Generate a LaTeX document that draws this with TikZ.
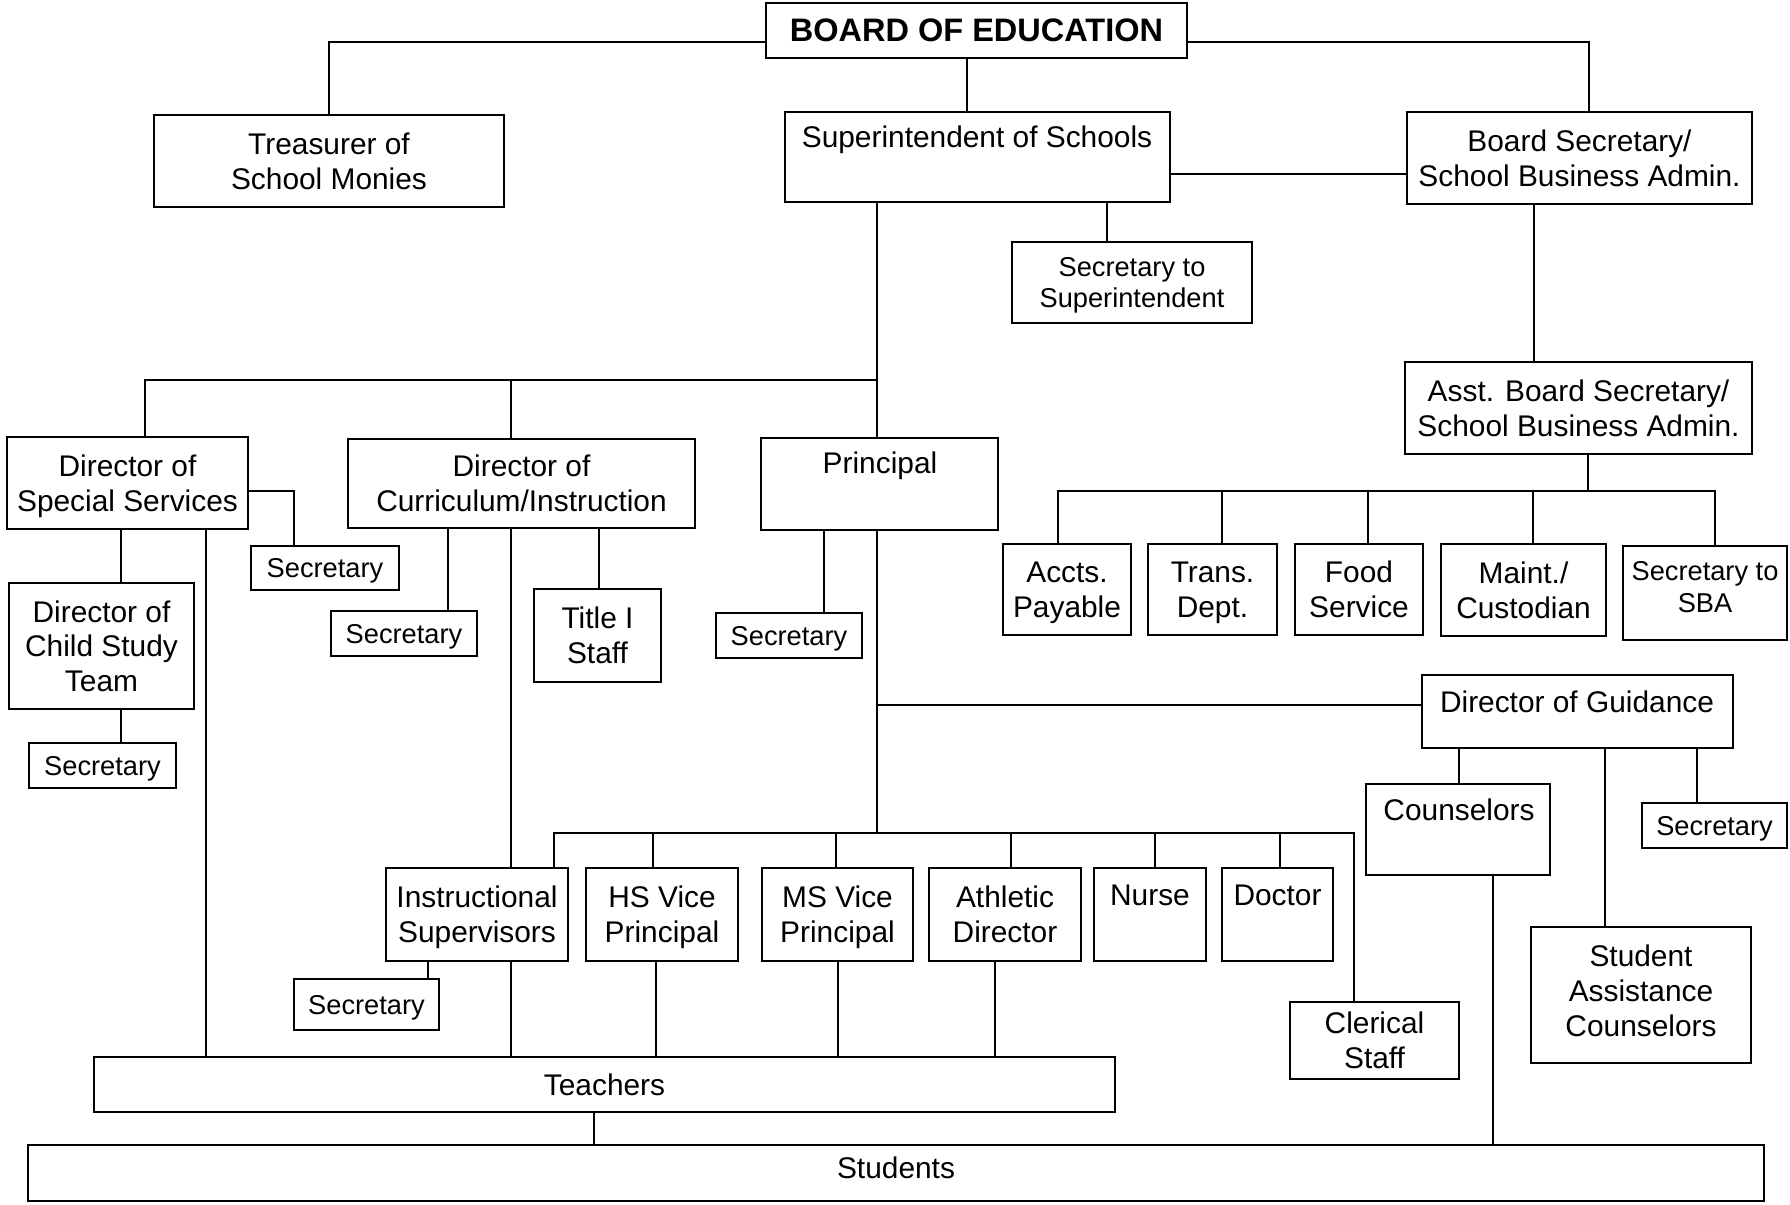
\documentclass[tikz,border=0pt]{standalone}
\usepackage{fontspec}
\setmainfont{Liberation Sans}
\newcommand\fsA{\fontsize{17}{19.8}\selectfont}
\newcommand\fsB{\fontsize{15.5}{17.8}\selectfont}
\newcommand\fsC{\bfseries\fontsize{18.5}{21}\selectfont}
\begin{document}
\begin{tikzpicture}[x=0.02cm, y=-0.02cm,
  box/.style={draw, line width=1.4pt, inner sep=0pt, align=center, text depth=0pt, font=\fsA},
  lbl/.style={inner sep=0pt, align=center, font=\fsA},
  wh/.style 2 args={minimum width=#1*0.02cm, minimum height=#2*0.02cm},
  conn/.style={line width=1.1pt}]
\useasboundingbox (0,0) rectangle (1790,1204);
% boxes
\node[box, wh={421}{55}, font=\fsC] (board) at (976.5,30.5) {BOARD OF EDUCATION};
\node[box, wh={350}{92}] (treas) at (329,161) {Treasurer of\\School Monies};
\node[box, wh={385}{90}] (super) at (977.5,157) {};
\node[lbl, anchor=base] (superT) at (977,147) {Superintendent of Schools};
\node[box, wh={345}{92}] (bsec) at (1579.5,158) {Board Secretary/\\School Business Admin.};
\node[box, wh={240}{81}, font=\fsB] (secsup) at (1132,282.5) {Secretary to\\Superintendent};
\node[box, wh={347}{92}] (asst) at (1578.5,408) {Asst. Board Secretary/\\School Business Admin.};
\node[box, wh={241}{92}] (dss) at (127.5,483) {Director of\\Special Services};
\node[box, wh={148}{44}, font=\fsB] (sec1) at (325,568) {Secretary};
\node[box, wh={185}{126}] (cst) at (101.5,646) {Director of\\Child Study\\Team};
\node[box, wh={147}{45}, font=\fsB] (sec2) at (102.5,765.5) {Secretary};
\node[box, wh={347}{89}] (doc) at (521.5,483.5) {Director of\\Curriculum/Instruction};
\node[box, wh={146}{45}, font=\fsB] (sec3) at (404,633.5) {Secretary};
\node[box, wh={127}{93}] (title) at (597.5,635.5) {Title I\\Staff};
\node[box, wh={237}{92}] (principal) at (879.5,484) {};
\node[lbl, anchor=base] (principalT) at (880,473) {Principal};
\node[box, wh={146}{45}, font=\fsB] (sec4) at (789,635.5) {Secretary};
\node[box, wh={128}{91}] (accts) at (1067,589.5) {Accts.\\Payable};
\node[box, wh={129}{91}] (trans) at (1212.5,589.5) {Trans.\\Dept.};
\node[box, wh={128}{91}] (food) at (1359,589.5) {Food\\Service};
\node[box, wh={165}{92}] (maint) at (1523.5,590) {Maint./\\Custodian};
\node[box, wh={164}{94}] (secsba) at (1705,593) {};
\node[lbl, font=\fsB] (secsbaT) at (1705,587) {Secretary to\\SBA};
\node[box, wh={311}{73}] (guid) at (1577.5,711.5) {};
\node[lbl, anchor=base] (guidT) at (1577,712) {Director of Guidance};
\node[box, wh={184}{91}] (couns) at (1458,829.5) {};
\node[lbl, anchor=base] (counsT) at (1459,820) {Counselors};
\node[box, wh={145}{45}, font=\fsB] (sec5) at (1714.5,825.5) {Secretary};
\node[box, wh={220}{136}] (sac) at (1641,995) {};
\node[lbl] (sacT) at (1641,991) {Student\\Assistance\\Counselors};
\node[box, wh={182}{93}] (instr) at (477,914.5) {Instructional\\Supervisors};
\node[box, wh={152}{93}] (hsvp) at (662,914.5) {HS Vice\\Principal};
\node[box, wh={151}{93}] (msvp) at (837.5,914.5) {MS Vice\\Principal};
\node[box, wh={152}{93}] (ath) at (1005,914.5) {Athletic\\Director};
\node[box, wh={112}{93}] (nurse) at (1150,914.5) {};
\node[lbl, anchor=base] (nurseT) at (1150,905) {Nurse};
\node[box, wh={111}{93}] (doctor) at (1277.5,914.5) {};
\node[lbl, anchor=base] (doctorT) at (1277.5,905) {Doctor};
\node[box, wh={145}{51}, font=\fsB] (sec6) at (366.5,1004.5) {Secretary};
\node[box, wh={169}{77}] (clerical) at (1374.5,1040.5) {Clerical\\Staff};
\node[box, wh={1021}{55}] (teachers) at (604.5,1084.5) {Teachers};
\node[box, wh={1736}{56}] (students) at (896,1173) {};
\node[lbl] (studentsT) at (896,1168) {Students};
% guide coordinates
\coordinate (yB) at (0,42);
\coordinate (y174) at (0,174);
\coordinate (y380) at (0,380);
\coordinate (y491) at (0,491);
\coordinate (y705) at (0,705);
\coordinate (y833) at (0,833);
\coordinate (c967) at (967,0);
\coordinate (c1589) at (1589,0);
\coordinate (c1107) at (1107,0);
\coordinate (cSp) at (877,0);
\coordinate (c145) at (145,0);
\coordinate (c511) at (511,0);
\coordinate (c1534) at (1534,0);
\coordinate (c1588) at (1588,0);
\coordinate (c1058) at (1058,0);
\coordinate (c1222) at (1222,0);
\coordinate (c1368) at (1368,0);
\coordinate (c1533) at (1533,0);
\coordinate (c1715) at (1715,0);
\coordinate (c294) at (294,0);
\coordinate (c121) at (121,0);
\coordinate (c206) at (206,0);
\coordinate (c448) at (448,0);
\coordinate (c599) at (599,0);
\coordinate (c824) at (824,0);
\coordinate (c554) at (554,0);
\coordinate (c1354) at (1354,0);
\coordinate (c653) at (653,0);
\coordinate (c836) at (836,0);
\coordinate (c1011) at (1011,0);
\coordinate (c1155) at (1155,0);
\coordinate (c1280) at (1280,0);
\coordinate (c428) at (428,0);
\coordinate (c656) at (656,0);
\coordinate (c838) at (838,0);
\coordinate (c995) at (995,0);
\coordinate (c594) at (594,0);
\coordinate (c1459) at (1459,0);
\coordinate (c1605) at (1605,0);
\coordinate (c1697) at (1697,0);
\coordinate (c1493) at (1493,0);
% connectors
\draw[conn] (board.west |- yB) -| (treas.north);
\draw[conn] (board.east |- yB) -| (bsec.north -| c1589);
\draw[conn] (board.south -| c967) -- (super.north -| c967);
\draw[conn] (super.east |- y174) -- (bsec.west |- y174);
\draw[conn] (super.south -| c1107) -- (secsup.north -| c1107);
\draw[conn] (super.south -| cSp) -- (principal.north -| cSp);
\draw[conn] (cSp |- y380) -| (dss.north -| c145);
\draw[conn] (doc.north -| c511) -- (c511 |- y380);
\draw[conn] (bsec.south -| c1534) -- (asst.north -| c1534);
\draw[conn] (asst.south -| c1588) -- (c1588 |- y491);
\draw[conn] (accts.north -| c1058) -- (c1058 |- y491) -- (c1715 |- y491) -- (secsba.north -| c1715);
\draw[conn] (trans.north -| c1222) -- (c1222 |- y491);
\draw[conn] (food.north -| c1368) -- (c1368 |- y491);
\draw[conn] (maint.north -| c1533) -- (c1533 |- y491);
\draw[conn] (dss.east |- y491) -| (sec1.north -| c294);
\draw[conn] (dss.south -| c121) -- (cst.north -| c121);
\draw[conn] (cst.south -| c121) -- (sec2.north -| c121);
\draw[conn] (dss.south -| c206) -- (teachers.north -| c206);
\draw[conn] (doc.south -| c448) -- (sec3.north -| c448);
\draw[conn] (doc.south -| c599) -- (title.north -| c599);
\draw[conn] (doc.south -| c511) -- (instr.north -| c511);
\draw[conn] (instr.south -| c511) -- (teachers.north -| c511);
\draw[conn] (principal.south -| c824) -- (sec4.north -| c824);
\draw[conn] (principal.south -| cSp) -- (cSp |- y833);
\draw[conn] (cSp |- y705) -- (guid.west |- y705);
\draw[conn] (instr.north -| c554) -- (c554 |- y833) -- (c1354 |- y833) -- (clerical.north -| c1354);
\draw[conn] (hsvp.north -| c653) -- (c653 |- y833);
\draw[conn] (msvp.north -| c836) -- (c836 |- y833);
\draw[conn] (ath.north -| c1011) -- (c1011 |- y833);
\draw[conn] (nurse.north -| c1155) -- (c1155 |- y833);
\draw[conn] (doctor.north -| c1280) -- (c1280 |- y833);
\draw[conn] (instr.south -| c428) -- (sec6.north -| c428);
\draw[conn] (hsvp.south -| c656) -- (teachers.north -| c656);
\draw[conn] (msvp.south -| c838) -- (teachers.north -| c838);
\draw[conn] (ath.south -| c995) -- (teachers.north -| c995);
\draw[conn] (teachers.south -| c594) -- (students.north -| c594);
\draw[conn] (guid.south -| c1459) -- (couns.north -| c1459);
\draw[conn] (guid.south -| c1605) -- (sac.north -| c1605);
\draw[conn] (guid.south -| c1697) -- (sec5.north -| c1697);
\draw[conn] (couns.south -| c1493) -- (students.north -| c1493);
\end{tikzpicture}
\end{document}
